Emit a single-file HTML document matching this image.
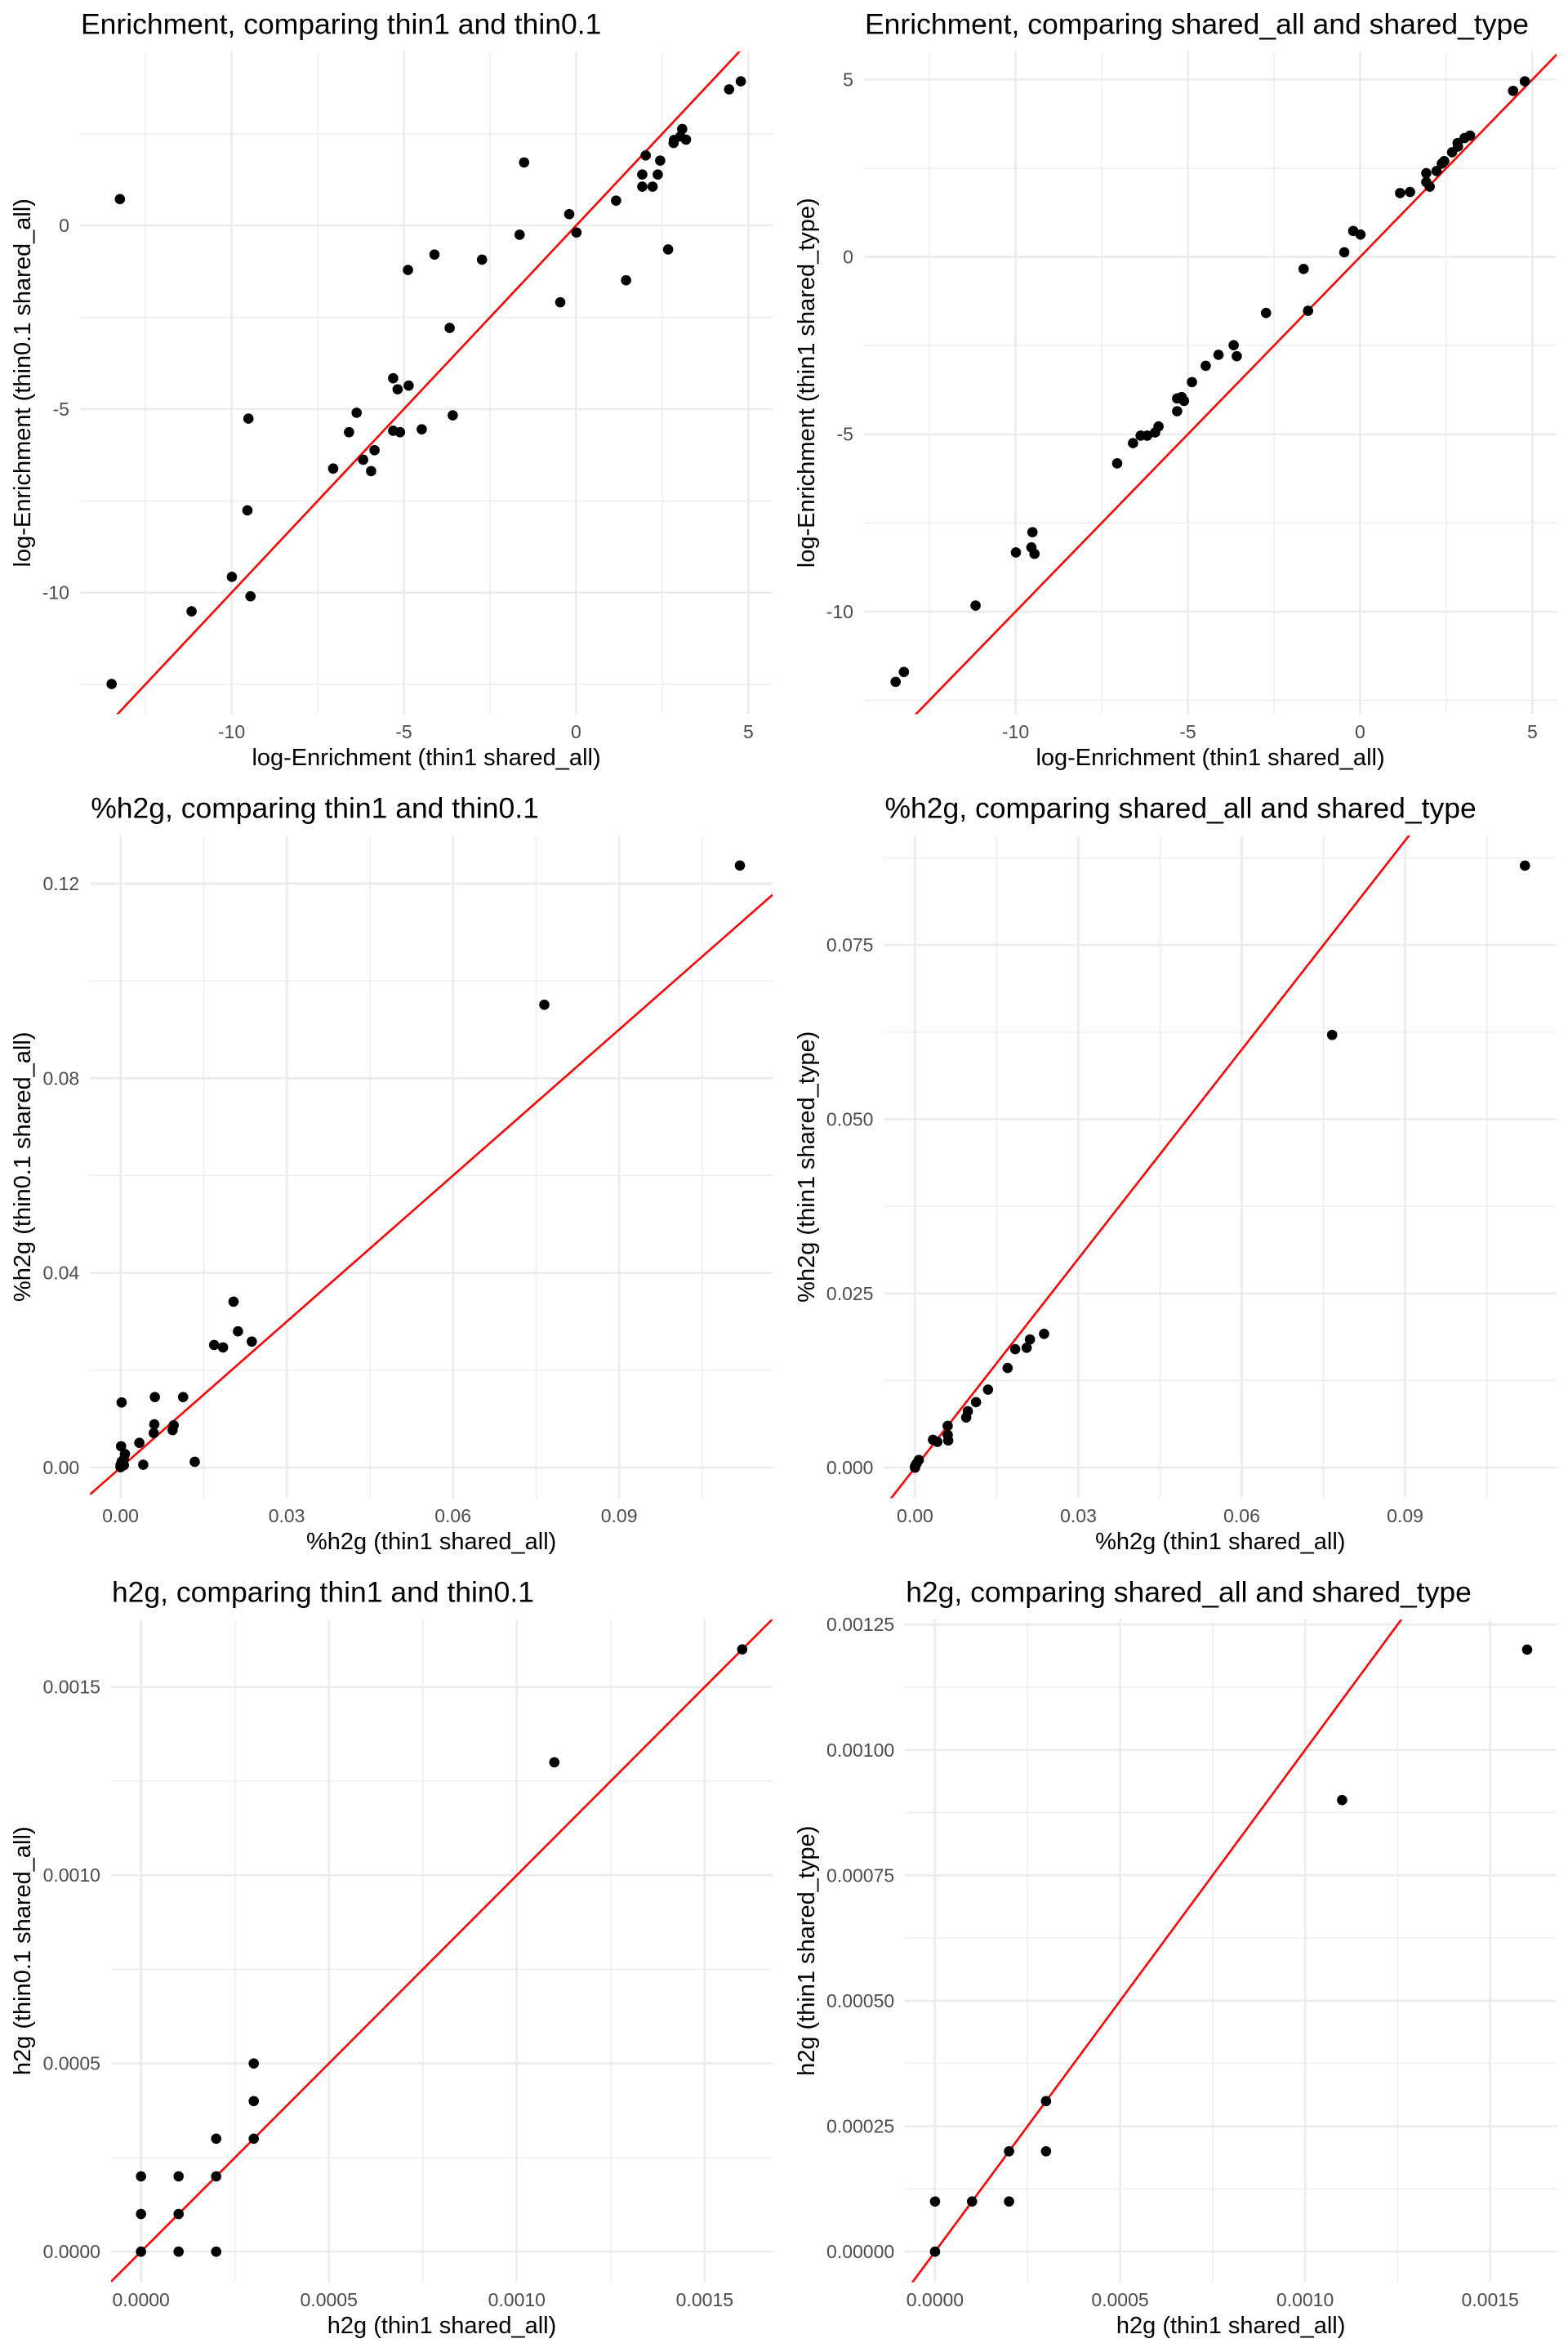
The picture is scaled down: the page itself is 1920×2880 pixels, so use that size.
<!DOCTYPE html>
<html><head><meta charset="utf-8">
<style>
html,body{margin:0;padding:0;background:#fff;}
svg{display:block;font-family:"Liberation Sans",Arial,sans-serif;}
</style></head>
<body>
<svg id="chart" width="1920" height="2880" viewBox="0 0 1920 2880" xmlns="http://www.w3.org/2000/svg"></svg>
<script>
// ---- Data ----
const p1X = [-13.24,-13.48,-11.16,-9.99,-9.45,-9.54,-9.51,-7.05,-6.59,-6.37,-6.18,-5.95,-5.85,-5.31,-5.31,-5.18,-5.11,-4.88,-4.86,-4.48,-4.11,-3.67,-3.58,-2.73,-1.64,-1.51,-0.46,-0.20,0.01,1.16,1.45,1.92,1.92,2.02,2.22,2.37,2.44,2.67,2.83,2.84,3.08,3.03,3.19,4.44,4.78];
const p1Y = [0.72,-12.49,-10.51,-9.57,-10.10,-7.76,-5.26,-6.62,-5.63,-5.10,-6.38,-6.69,-6.12,-4.16,-5.59,-4.46,-5.63,-1.21,-4.36,-5.55,-0.79,-2.79,-5.17,-0.93,-0.25,1.72,-2.09,0.31,-0.19,0.68,-1.49,1.39,1.06,1.91,1.06,1.39,1.77,-0.65,2.25,2.33,2.63,2.43,2.34,3.71,3.93];
const p2X = [-13.48,-13.24,-11.16,-9.99,-9.54,-9.51,-9.45,-7.05,-6.59,-6.37,-6.18,-5.95,-5.85,-5.31,-5.31,-5.18,-5.11,-4.88,-4.48,-4.11,-3.67,-3.58,-2.73,-1.64,-1.51,-0.46,-0.20,0.01,1.16,1.45,1.92,1.92,2.02,2.22,2.37,2.44,2.67,2.83,2.84,3.03,3.19,4.44,4.78];
const p2Y = [-11.98,-11.70,-9.83,-8.33,-8.19,-7.76,-8.37,-5.82,-5.25,-5.04,-5.04,-4.95,-4.78,-3.99,-4.35,-3.95,-4.06,-3.53,-3.07,-2.76,-2.49,-2.80,-1.58,-0.34,-1.52,0.13,0.73,0.63,1.80,1.83,2.36,2.11,1.98,2.42,2.63,2.70,2.95,3.21,3.11,3.35,3.42,4.68,4.95];
const p3X = [0.1118,0.0765,0.0204,0.0212,0.0237,0.0169,0.0185,0.0002,0.0062,0.0113,0.0061,0.0060,0.0096,0.0094,0.0034,0.0001,0.0041,0.0134,0.0008,0.0006,0.0002,0.0,0.0006,0.0];
const p3Y = [0.1237,0.0951,0.0341,0.0280,0.0259,0.0252,0.0247,0.0134,0.0145,0.0145,0.0089,0.0071,0.0087,0.0077,0.0051,0.0044,0.0006,0.0012,0.0028,0.0017,0.0012,0.0005,0.0005,0.0001];
const p4X = [0.1120,0.0766,0.0237,0.0211,0.0205,0.0184,0.0170,0.0134,0.0112,0.0097,0.0094,0.0060,0.0060,0.0061,0.0033,0.0041,0.0007,0.0003,0.0,0.0];
const p4Y = [0.0864,0.0621,0.0192,0.0184,0.0172,0.0170,0.0143,0.0112,0.0094,0.0081,0.0072,0.0060,0.0047,0.0039,0.0040,0.0037,0.0011,0.0006,0.0002,0.0];
const p5X = [0,0,0,0.0001,0.0001,0.0001,0.0002,0.0002,0.0002,0.0003,0.0003,0.0003,0.0011,0.0016];
const p5Y = [0,0.0001,0.0002,0,0.0001,0.0002,0,0.0002,0.0003,0.0003,0.0004,0.0005,0.0013,0.0016];
const p6X = [0,0,0.0001,0.0002,0.0002,0.0003,0.0003,0.0011,0.0016];
const p6Y = [0,0.0001,0.0001,0.0001,0.0002,0.0002,0.0003,0.0009,0.0012];
const enrichXTicks = [-10,-5,0,5];
const p1YTicks = [-10,-5,0];
const p2YTicks = [-10,-5,0,5];
const pctXTicks = [0,0.03,0.06,0.09];
const p3YTicks = [0,0.04,0.08,0.12];
const p4YTicks = [0,0.025,0.05,0.075];
const h2gXTicks = [0,0.0005,0.001,0.0015];
const p5YTicks = [0,0.0005,0.001,0.0015];
const p6YTicks = [0,0.00025,0.0005,0.00075,0.001,0.00125];
const p1XLabels=["-10","-5","0","5"], p1YLabels=["-10","-5","0"], p2YLabels=["-10","-5","0","5"];
const pctXLabels=["0.00","0.03","0.06","0.09"], p3YLabels=["0.00","0.04","0.08","0.12"], p4YLabels=["0.000","0.025","0.050","0.075"];
const h2gXLabels=["0.0000","0.0005","0.0010","0.0015"], p5YLabels=["0.0000","0.0005","0.0010","0.0015"], p6YLabels=["0.00000","0.00025","0.00050","0.00075","0.00100","0.00125"];

const NS="http://www.w3.org/2000/svg";
const svg=document.getElementById('chart');
const S=1/1.633;
function mk(tag,attrs,parent){const e=document.createElementNS(NS,tag);for(const k in attrs)e.setAttribute(k,attrs[k]);parent.appendChild(e);return e;}

const panels=[
 {ox:0,oy:0,left:160,xa:[-10,463,0,1152],ya:[0,451,-10,1185],X:p1X,Y:p1Y,xt:enrichXTicks,xl:p1XLabels,yt:p1YTicks,yl:p1YLabels,title:"Enrichment, comparing thin1 and thin0.1",xtitle:"log-Enrichment (thin1 shared_all)",ytitle:"log-Enrichment (thin0.1 shared_all)"},
 {ox:960,oy:0,left:160,xa:[-10,463,0,1152],ya:[5,159,-10,1223],X:p2X,Y:p2Y,xt:enrichXTicks,xl:p1XLabels,yt:p2YTicks,yl:p2YLabels,title:"Enrichment, comparing shared_all and shared_type",xtitle:"log-Enrichment (thin1 shared_all)",ytitle:"log-Enrichment (thin1 shared_type)"},
 {ox:0,oy:960,left:180,xa:[0,241,0.09,1238],ya:[0,1367,0.12,199],X:p3X,Y:p3Y,xt:pctXTicks,xl:pctXLabels,yt:p3YTicks,yl:p3YLabels,title:"%h2g, comparing thin1 and thin0.1",xtitle:"%h2g (thin1 shared_all)",ytitle:"%h2g (thin0.1 shared_all)"},
 {ox:960,oy:960,left:200,xa:[0,262,0.09,1242],ya:[0,1367,0.075,322],X:p4X,Y:p4Y,xt:pctXTicks,xl:pctXLabels,yt:p4YTicks,yl:p4YLabels,title:"%h2g, comparing shared_all and shared_type",xtitle:"%h2g (thin1 shared_all)",ytitle:"%h2g (thin1 shared_type)"},
 {ox:0,oy:1920,left:222,xa:[0,282,0.0015,1409],ya:[0,1367,0.0015,238],X:p5X,Y:p5Y,xt:h2gXTicks,xl:h2gXLabels,yt:p5YTicks,yl:p5YLabels,title:"h2g, comparing thin1 and thin0.1",xtitle:"h2g (thin1 shared_all)",ytitle:"h2g (thin0.1 shared_all)"},
 {ox:960,oy:1920,left:242,xa:[0,302,0.0015,1412],ya:[0,1367,0.00125,113],X:p6X,Y:p6Y,xt:h2gXTicks,xl:h2gXLabels,yt:p6YTicks,yl:p6YLabels,title:"h2g, comparing shared_all and shared_type",xtitle:"h2g (thin1 shared_all)",ytitle:"h2g (thin1 shared_type)"}
];

panels.forEach((p,i)=>{
  const g=mk('g',{transform:`translate(${p.ox},${p.oy})`},svg);
  
  
  const L=p.left*S, R=1545*S, T=103*S, B=1428*S;
  const sx=v=>(p.xa[1]+(v-p.xa[0])*(p.xa[3]-p.xa[1])/(p.xa[2]-p.xa[0]))*S;
  const sy=v=>(p.ya[1]+(v-p.ya[0])*(p.ya[3]-p.ya[1])/(p.ya[2]-p.ya[0]))*S;
  const clip=mk('clipPath',{id:'clip'+i},g);
  mk('rect',{x:L,y:T,width:R-L,height:B-T},clip);
  const minors=t=>{const st=t[1]-t[0];const m=[];for(let k=-1;k<t.length;k++){m.push(t[0]+st*(k+0.5));}return m;};
  minors(p.xt).forEach(v=>{const x=sx(v);if(x>L&&x<R){const l=mk('line',{x1:x,x2:x,y1:T,y2:B,stroke:'#ebebeb','stroke-width':1.3},g);}});
  minors(p.yt).forEach(v=>{const y=sy(v);if(y>T&&y<B){const l=mk('line',{x1:L,x2:R,y1:y,y2:y,stroke:'#ebebeb','stroke-width':1.3},g);}});
  p.xt.forEach((v,k)=>{const x=sx(v);
    const l=mk('line',{x1:x,x2:x,y1:T,y2:B,stroke:'#ebebeb','stroke-width':2.6},g);
    
    
    const t=mk('text',{x:x,y:1476*S,'text-anchor':'middle','font-size':23,fill:'#4d4d4d'},g);t.textContent=p.xl[k];
    
    });
  p.yt.forEach((v,k)=>{const y=sy(v);
    const l=mk('line',{x1:L,x2:R,y1:y,y2:y,stroke:'#ebebeb','stroke-width':2.6},g);
    
    
    const t=mk('text',{x:L-13,y:y+8,'text-anchor':'end','font-size':23,fill:'#4d4d4d'},g);t.textContent=p.yl[k];
    
    });
  const xd0=p.xa[0]+(L/S-p.xa[1])*(p.xa[2]-p.xa[0])/(p.xa[3]-p.xa[1]);
  const xd1=p.xa[0]+(R/S-p.xa[1])*(p.xa[2]-p.xa[0])/(p.xa[3]-p.xa[1]);
  const line=mk('line',{x1:sx(xd0),y1:sy(xd0),x2:sx(xd1),y2:sy(xd1),stroke:'#ff0000','stroke-width':2.6,'clip-path':`url(#clip${i})`},g);
  
  
  p.X.forEach((xv,k)=>{const c=mk('circle',{cx:sx(xv),cy:sy(p.Y[k]),r:6.3,fill:'#000'},g);
    
    });
  const ti=mk('text',{x:L+1,y:68*S,'font-size':35.5,fill:'#000'},g);ti.textContent=p.title;
  
  
  const xt=mk('text',{x:(L+R)/2,y:1530*S,'text-anchor':'middle','font-size':29,fill:'#000'},g);xt.textContent=p.xtitle;
  
  
  const cy=(T+B)/2;
  const yt=mk('text',{x:0,y:0,transform:`translate(37,${cy}) rotate(-90)`,'text-anchor':'middle','font-size':29,fill:'#000'},g);yt.textContent=p.ytitle;
  
  
});
</script>
</body></html>
